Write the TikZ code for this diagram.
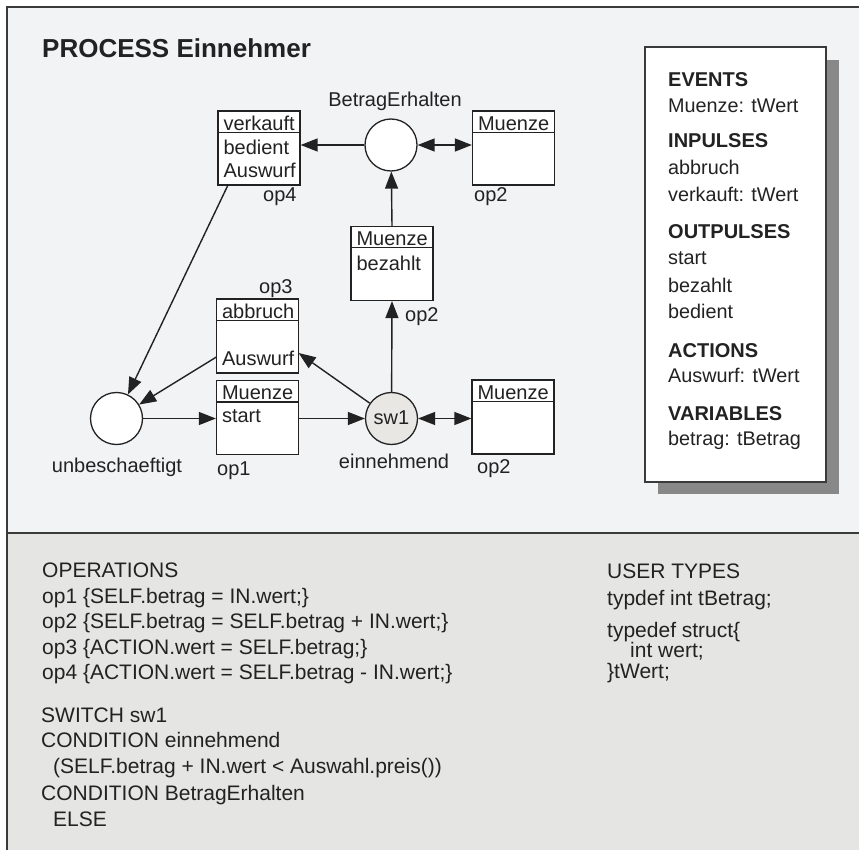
\documentclass[tikz,border=0pt]{standalone}
\usepackage{fontspec}
\setmainfont{Liberation Sans}
\usetikzlibrary{arrows.meta,calc}
\definecolor{ink}{HTML}{222222}
\definecolor{topbg}{HTML}{F2F3F5}
\definecolor{botbg}{HTML}{E5E5E3}
\definecolor{framec}{HTML}{3A3A3A}
\definecolor{swfill}{HTML}{E9E7E4}
\definecolor{shadowc}{HTML}{888888}
\tikzset{
  opbox/.style={draw=ink, line width=1.3pt, fill=white, minimum width=82pt, minimum height=74pt, inner sep=0pt},
  place/.style={circle, draw=ink, line width=1.3pt, fill=white, minimum size=52pt, inner sep=0pt},
  txt/.style={font=\fontsize{20}{22}\selectfont, text=ink, inner sep=0pt, anchor=base west},
  ctxt/.style={txt, anchor=base},
  side/.style={font=\fontsize{19.8}{22}\selectfont, text=ink, inner sep=0pt, anchor=base west},
  sidehd/.style={side, font=\fontsize{20}{22}\selectfont\bfseries},
  code/.style={font=\fontsize{21}{24}\selectfont, text=ink, inner sep=0pt, anchor=base west},
  divl/.style={draw=ink, line width=1.3pt},
  arr/.style={draw=ink, line width=1.4pt, -{Triangle[length=17pt,width=13pt]}},
  arrtwo/.style={draw=ink, line width=1.4pt, {Triangle[length=17pt,width=13pt]}-{Triangle[length=17pt,width=13pt]}}
}
\begin{document}
\begin{tikzpicture}[x=1pt,y=-1pt]
\useasboundingbox (0,0) rectangle (859,850);
\fill[white] (0,0) rectangle (859,850);
\fill[topbg] (7,7) rectangle (859,533);
\fill[botbg] (7,533) rectangle (859,850);
\draw[framec, line width=1.5pt] (859,7) -- (7,7) -- (7,850);
\draw[framec, line width=2pt] (7,533) -- (859,533);

% title
\node[txt, font=\fontsize{26}{28}\selectfont\bfseries] (title) at (42,58) {PROCESS Einnehmer};

% places
\node[place] (BE) at (391,145) {};
\node[place] (unb) at (116.5,418.5) {};
\node[place, fill=swfill] (sw1) at (391.5,418.5) {};
\node[txt, anchor=center] (sw1t) at (391.5,418) {sw1};
\node[ctxt] (BEl) at (395,107) {BetragErhalten};
\node[ctxt] (unbl) at (117,472) {unbeschaeftigt};
\node[ctxt] (sw1l) at (394,468) {einnehmend};

% op4
\node[opbox] (op4) at (259,148) {};
\draw[divl] ($(op4.north west)+(0,22)$) -- ($(op4.north east)+(0,22)$);
\node[txt] (op4a) at ($(op4.north west)+(6,20)$) {verkauft};
\node[txt] (op4b) at ($(op4.north west)+(6,44)$) {bedient};
\node[txt] (op4c) at ($(op4.north west)+(6,67)$) {Auswurf};
\node[txt] (op4l) at (263,202) {op4};

% op2 top right
\node[opbox] (op2a) at (513.5,148) {};
\draw[divl] ($(op2a.north west)+(0,22)$) -- ($(op2a.north east)+(0,22)$);
\node[txt] (op2aa) at ($(op2a.north west)+(6,20)$) {Muenze};
\node[txt] (op2al) at (474,202) {op2};

% op2 middle
\node[opbox] (op2m) at (392,263.5) {};
\draw[divl] ($(op2m.north west)+(0,22)$) -- ($(op2m.north east)+(0,22)$);
\node[txt] (op2ma) at ($(op2m.north west)+(6,20)$) {Muenze};
\node[txt] (op2mb) at ($(op2m.north west)+(6,45)$) {bezahlt};
\node[txt] (op2ml) at (405,321) {op2};

% op3
\node[opbox] (op3) at (257.5,336) {};
\draw[divl] ($(op3.north west)+(0,22)$) -- ($(op3.north east)+(0,22)$);
\node[txt] (op3a) at ($(op3.north west)+(6,20)$) {abbruch};
\node[txt] (op3c) at ($(op3.north west)+(6,67)$) {Auswurf};
\node[txt] (op3l) at (259,294) {op3};

% op1
\node[opbox] (op1) at (257.5,417.5) {};
\draw[divl] ($(op1.north west)+(0,22)$) -- ($(op1.north east)+(0,22)$);
\node[txt] (op1a) at ($(op1.north west)+(6,20)$) {Muenze};
\node[txt] (op1b) at ($(op1.north west)+(6,43)$) {start};
\node[txt] (op1l) at (217,475) {op1};

% op2 lower right
\node[opbox] (op2c) at (513,417) {};
\draw[divl] ($(op2c.north west)+(0,22)$) -- ($(op2c.north east)+(0,22)$);
\node[txt] (op2ca) at ($(op2c.north west)+(6,20)$) {Muenze};
\node[txt] (op2cl) at (477,473) {op2};

% connectors
\coordinate (op4out) at (228,185);
\coordinate (op3in) at (298.6,353);
\coordinate (op3out) at (216.4,357);
\draw[arr] (BE) -- (BE -| op4.east);
\draw[arrtwo] (BE) -- (BE -| op2a.west);
\draw[arr] (op2m.north) -- (BE);
\draw[arr] (sw1) -- (op2m.south);
\draw[arrtwo] (sw1) -- (sw1 -| op2c.west);
\draw[arr] (unb) -- (unb -| op1.west);
\draw[arr] (op1.east |- sw1) -- (sw1);
\draw[arr] (sw1) -- (op3in);
\draw[arr] (op3out) -- (unb);
\draw[arr] (op4out) -- (unb);

% side panel
\fill[shadowc] (658,60) rectangle (839,494);
\node[draw=framec, fill=white, line width=1.3pt, minimum width=181pt, minimum height=435pt, inner sep=0pt] (decl) at (735.5,264.5) {};
\node[sidehd] (s1) at (668,87) {EVENTS};
\node[side] (s2) at (668,113) {Muenze: tWert};
\node[sidehd] (s3) at (668,148) {INPULSES};
\node[side] (s4) at (668,175) {abbruch};
\node[side] (s5) at (668,202) {verkauft: tWert};
\node[sidehd] (s6) at (668,239) {OUTPULSES};
\node[side] (s7) at (668,265) {start};
\node[side] (s8) at (668,292) {bezahlt};
\node[side] (s9) at (668,318) {bedient};
\node[sidehd] (s10) at (668,357) {ACTIONS};
\node[side] (s11) at (668,382) {Auswurf: tWert};
\node[sidehd] (s12) at (668,420) {VARIABLES};
\node[side] (s13) at (668,445) {betrag: tBetrag};

% bottom code
\node[code] (c1) at (42,577) {OPERATIONS};
\node[code] (c2) at (42,603) {op1 \{SELF.betrag = IN.wert;\}};
\node[code] (c3) at (42,628) {op2 \{SELF.betrag = SELF.betrag + IN.wert;\}};
\node[code] (c4) at (42,654) {op3 \{ACTION.wert = SELF.betrag;\}};
\node[code] (c5) at (42,679) {op4 \{ACTION.wert = SELF.betrag - IN.wert;\}};
\node[code] (c6) at (41,722) {SWITCH sw1};
\node[code] (c7) at (41,747) {CONDITION einnehmend};
\node[code] (c8) at (53,773) {(SELF.betrag + IN.wert < Auswahl.preis())};
\node[code] (c9) at (41,800) {CONDITION BetragErhalten};
\node[code] (c10) at (53,826) {ELSE};

\node[code] (u1) at (607,578) {USER TYPES};
\node[code] (u2) at (607,605) {typdef int tBetrag;};
\node[code] (u3) at (607,637) {typedef struct\{};
\node[code] (u4) at (630,657) {int wert;};
\node[code] (u5) at (607,678) {\}tWert;};
\end{tikzpicture}
\end{document}
